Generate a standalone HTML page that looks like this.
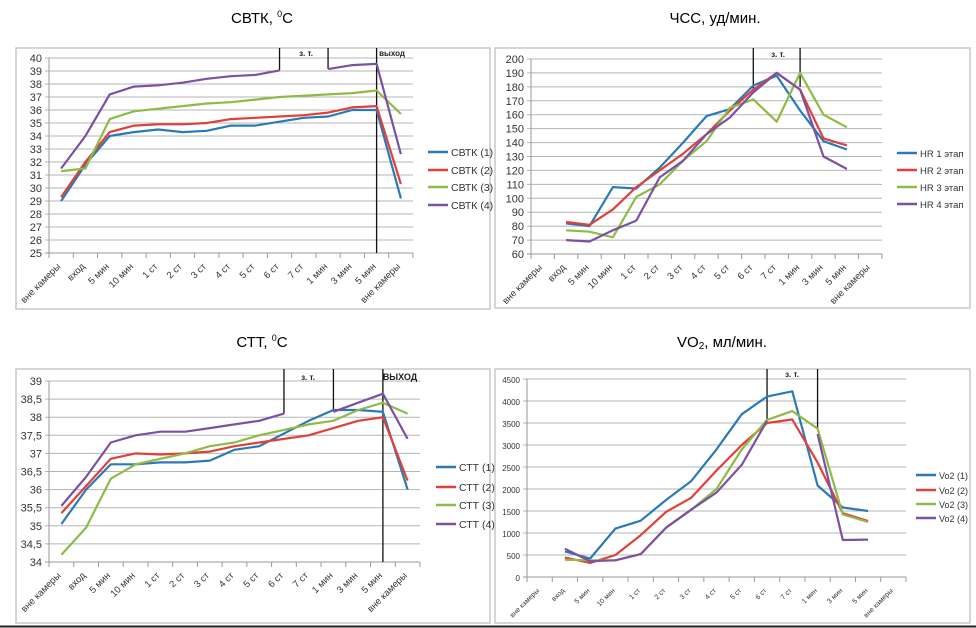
<!DOCTYPE html>
<html><head><meta charset="utf-8">
<style>
body{margin:0;background:#fff;}
svg{display:block;font-family:"Liberation Sans","DejaVu Sans",sans-serif;}
</style></head>
<body>
<svg id="s" width="976" height="628" viewBox="0 0 976 628">
<text x="262" y="23" font-size="15" text-anchor="middle">СВТК, <tspan font-size="9" dy="-6">0</tspan><tspan dy="6">С</tspan></text>
<text x="715" y="23" font-size="15" text-anchor="middle">ЧСС, уд/мин.</text>
<text x="262" y="347" font-size="15" text-anchor="middle">СТТ, <tspan font-size="9" dy="-6">0</tspan><tspan dy="6">С</tspan></text>
<text x="722" y="347" font-size="15" text-anchor="middle">VO<tspan font-size="10" dy="2">2</tspan><tspan dy="-2">, мл/мин.</tspan></text>
<line x1="0" y1="626.5" x2="976" y2="626.5" stroke="#222" stroke-width="2"/>
</svg>
<script>
const categories=["вне камеры","вход","5 мин","10 мин","1 ст","2 ст","3 ст","4 ст","5 ст","6 ст","7 ст","1 мин","3 мин","5 мин","вне камеры"];
const colors=["#2a7ab8","#e0403a","#8dbb46","#7c51a1"];
const svtk1=[29,31.8,34,34.3,34.5,34.3,34.4,34.8,34.8,35.1,35.4,35.5,36,36,29.2];
const svtk2=[29.3,32,34.3,34.8,34.9,34.9,35,35.3,35.4,35.5,35.6,35.8,36.2,36.3,30.3];
const svtk3=[31.3,31.5,35.3,35.9,36.1,36.3,36.5,36.6,36.8,37,37.1,37.2,37.3,37.5,35.7];
const svtk4=[31.5,34,37.2,37.8,37.9,38.1,38.4,38.6,38.7,39.05,null,39.15,39.45,39.55,32.6];
const svtkTicks=[25,26,27,28,29,30,31,32,33,34,35,36,37,38,39,40];
const hr1=[null,82,80,108,107,122,140,159,164,181,188,163,141,135,null];
const hr2=[null,83,81,92,108,120,132,146,163,178,190,178,143,138,null];
const hr3=[null,77,76,72,101,110,127,141,165,171,155,190,160,151,null];
const hr4=[null,70,69,77,84,115,127,146,158,176,190,178,130,121,null];
const hrTicks=[60,70,80,90,100,110,120,130,140,150,160,170,180,190,200];
const ctt1=[35.05,36,36.7,36.7,36.75,36.75,36.8,37.1,37.2,37.55,37.9,38.2,38.2,38.15,36];
const ctt2=[35.35,36.1,36.85,37,36.97,37,37.05,37.2,37.3,37.4,37.5,37.7,37.9,38,36.25];
const ctt3=[34.2,34.95,36.3,36.7,36.85,37,37.2,37.3,37.5,37.65,37.8,37.9,38.2,38.4,38.1];
const ctt4=[35.55,36.35,37.3,37.5,37.6,37.6,37.7,37.8,37.9,38.1,null,38.15,38.4,38.65,37.4];
const cttTicks=[34,34.5,35,35.5,36,36.5,37,37.5,38,38.5,39];
const vo1=[null,580,420,1100,1280,1750,2180,2900,3700,4100,4220,2080,1580,1500,null];
const vo2=[null,440,320,500,950,1480,1800,2420,3000,3500,3580,2600,1450,1270,null];
const vo3=[null,390,380,380,520,1120,1530,2000,2900,3570,3770,3370,1420,1250,null];
const vo4=[null,640,360,380,520,1120,1530,1920,2550,3550,null,3250,840,850,null];
const voTicks=[0,500,1000,1500,2000,2500,3000,3500,4000,4500];

const NS="http://www.w3.org/2000/svg";
const svg=document.getElementById('s');
function mk(tag,attrs,parent){const e=document.createElementNS(NS,tag);for(const k in attrs)e.setAttribute(k,attrs[k]);(parent||svg).appendChild(e);return e;}

function chart(o){
  const g=mk('g',{});
  
  
  const fr=mk('rect',{x:o.fx,y:o.fy,width:o.fw,height:o.fh,fill:'none',stroke:'#c8c8c8','stroke-width':1.5},g);
  
  
  const ymin=o.ticks[0],ymax=o.ticks[o.ticks.length-1];
  const Y=v=>o.y1+(ymax-v)/(ymax-ymin)*(o.y0-o.y1);
  const cw=(o.x1-o.x0)/categories.length;
  const X=i=>o.x0+(i+0.5)*cw;
  o.ticks.forEach((t,i)=>{
    const y=Y(t);
    const gl=mk('line',{x1:o.x0-4,x2:o.x1,y1:y,y2:y,stroke:i==0?'#999':'#b5b5b5','stroke-width':1},g);
    
    
    const tx=mk('text',{x:o.x0-7,y:y+4,'font-size':o.tfs||11,'text-anchor':'end',fill:'#333'},g);
    tx.textContent=o.fmt?o.fmt(t):t;
    
    
  });
  const ax=mk('line',{x1:o.x0,x2:o.x0,y1:o.y1,y2:o.y0,stroke:'#999'},g);
  
  
  for(let i=0;i<=categories.length;i++){
    const x=o.x0+i*cw;
    const tk=mk('line',{x1:x,x2:x,y1:o.y0,y2:o.y0+5,stroke:'#999'},g);
    
    
  }
  categories.forEach((c,i)=>{
    const x=X(i),y=o.y0+14;
    const t=mk('text',{x:x,y:y,'font-size':o.xfs||9.5,'text-anchor':'end',fill:'#333',transform:`rotate(-45 ${x} ${y})`},g);
    t.textContent=c;
    
    
  });
  o.marks.forEach(m=>{
    const l=mk('line',{x1:X(m[0]),x2:X(m[0]),y1:o.fy,y2:m[1]==null?o.y0:Y(m[1]),stroke:'#111','stroke-width':1.3},g);
    
    
  });
  o.series.forEach((s,si)=>{
    let d='',pen=false;
    s.forEach((v,i)=>{if(v==null){pen=false;return;}d+=(pen?'L':'M')+X(i).toFixed(1)+' '+Y(v).toFixed(1)+' ';pen=true;});
    const p=mk('path',{d:d,fill:'none',stroke:colors[si],'stroke-width':2.2,'stroke-linejoin':'round'},g);
    
    
    const ly=o.ly[si];
    const ll=mk('line',{x1:o.lx,x2:o.lx+20,y1:ly,y2:ly,stroke:colors[si],'stroke-width':2.5},g);
    
    
    const lt=mk('text',{x:o.lx+23,y:ly+4,'font-size':o.lfs||10.5,fill:'#333'},g);
    lt.textContent=o.labels[si];
    
    
  });
  o.notes.forEach(n=>{
    const t=mk('text',{x:n[0],y:n[1],'font-size':n[3]||8,'font-weight':'bold','text-anchor':'middle',fill:'#222'},g);
    t.textContent=n[2];
    
    
  });
}

chart({name:'svtk',fx:16,fy:48,fw:474,fh:261,x0:49,x1:413,y0:253,y1:58,ticks:svtkTicks,
  series:[svtk1,svtk2,svtk3,svtk4],labels:['СВТК (1)','СВТК (2)','СВТК (3)','СВТК (4)'],
  lx:428,ly:[152,170,187,205],marks:[[9,39.05],[11,39.15],[13,null]],
  notes:[[306,56,'з. т.'],[392,56,'выход']]});
chart({name:'hr',fx:495,fy:48,fw:475,fh:260,x0:531,x1:882,y0:254,y1:59,ticks:hrTicks,lfs:9.5,
  series:[hr1,hr2,hr3,hr4],labels:['HR 1 этап','HR 2 этап','HR 3 этап','HR 4 этап'],
  lx:897,ly:[153,170,187,204],marks:[[9,178],[11,180]],
  notes:[[778,57,'з. т.']]});
chart({name:'ctt',fx:16,fy:369,fw:474,fh:254,x0:49,x1:420,y0:562,y1:381,ticks:cttTicks,fmt:t=>String(t).replace('.',','),
  series:[ctt1,ctt2,ctt3,ctt4],labels:['СТТ (1)','СТТ (2)','СТТ (3)','СТТ (4)'],
  lx:436,ly:[467,487,505,524],marks:[[9,38.1],[11,38.15],[13,null]],
  notes:[[308,380,'з. т.'],[400,380,'ВЫХОД',9]]});
chart({name:'vo2',fx:495,fy:369,fw:475,fh:254,x0:527,x1:906,y0:577,y1:379,ticks:voTicks,tfs:8,xfs:7,lfs:9,
  series:[vo1,vo2,vo3,vo4],labels:['Vo2 (1)','Vo2 (2)','Vo2 (3)','Vo2 (4)'],
  lx:916,ly:[475,490,504,518],marks:[[9,3550],[11,3370]],
  notes:[[792,377,'з. т.']]});
</script>
</body></html>
